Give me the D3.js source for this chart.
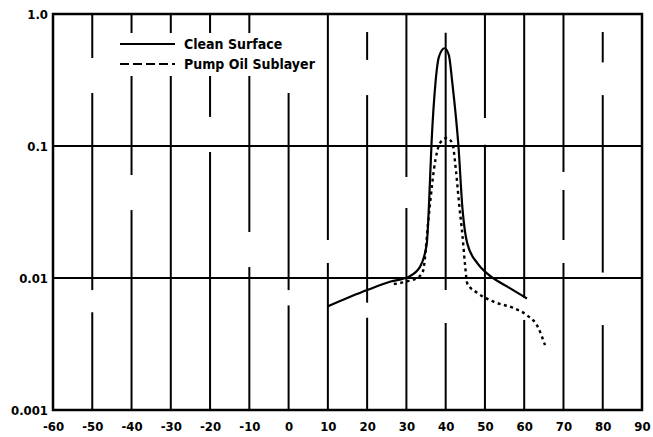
<!DOCTYPE html>
<html>
<head>
<meta charset="utf-8">
<script src="https://cdn.jsdelivr.net/npm/d3@7"></script>
<style>
  html, body { margin: 0; padding: 0; background: #fff; }
  svg { display: block; }
  text { font-family: "DejaVu Sans Condensed", "DejaVu Sans", sans-serif; font-weight: bold; fill: #000; }
</style>
</head>
<body>
<svg id="chart" width="653" height="437"></svg>
<script>
// ---- data ----
const xTicks = [-60, -50, -40, -30, -20, -10, 0, 10, 20, 30, 40, 50, 60, 70, 80, 90];
const yTicks = [0.001, 0.01, 0.1, 1.0];
const yTickLabels = ["0.001", "0.01", "0.1", "1.0"];
const seriesNames = ["Clean Surface", "Pump Oil Sublayer"];

const cleanX = [10, 20, 26, 30.5, 33.5, 35.2, 35.7, 36.4, 37.4, 38.3, 39.7, 40.8, 41.7, 42.6, 43.2, 44.3, 45.5, 48.1, 50.6, 55.7, 60.7];
const cleanY = [0.0061, 0.0081, 0.0094, 0.0102, 0.0122, 0.0183, 0.033, 0.105, 0.30, 0.475, 0.55, 0.49, 0.30, 0.167, 0.105, 0.033, 0.0183, 0.0129, 0.0108, 0.0086, 0.0070];

const oilX = [26.8, 30, 33, 34.2, 35.6, 36.2, 37.0, 37.9, 39.2, 40.3, 41.7, 42.6, 43.4, 44.3, 44.9, 45.5, 48.1, 52.3, 57.4, 60.8, 63.4, 65.3];
const oilY = [0.0090, 0.0094, 0.0101, 0.0112, 0.0275, 0.041, 0.066, 0.093, 0.111, 0.115, 0.105, 0.066, 0.037, 0.0206, 0.0129, 0.0091, 0.0077, 0.0066, 0.0059, 0.0052, 0.0043, 0.0031];

// breaks in the scanned vertical grid lines (value ranges where a line is missing)
const gridGapX = [-50, -50, -40, -20, -10, 0, 0, 10, 20, 20, 20, 30, 40, 40, 50, 60, 70, 70, 80, 80, 80];
const gridGapHi = [0.464, 0.0081, 0.0603, 0.166, 0.0223, 1, 0.0081, 0.0194, 1, 0.449, 0.0065, 0.0582, 1, 0.0081, 0.163, 0.00705, 0.0636, 0.0194, 1, 0.43, 0.011];
const gridGapLo = [0.252, 0.0055, 0.0327, 0.090, 0.0121, 0.252, 0.0062, 0.0130, 0.73, 0.243, 0.0050, 0.0339, 0.72, 0.00456, 0.102, 0.00481, 0.0464, 0.0130, 0.73, 0.243, 0.0044];

// ---- layout ----
const svg = d3.select("#chart");
const x = d3.scaleLinear().domain([-60, 90]).range([53, 642]);
const y = d3.scaleLog().domain([0.001, 1]).range([410, 14]);

// horizontal grid lines
svg.append("g").selectAll("line").data([0.01, 0.1]).join("line")
  .attr("x1", x(-60)).attr("x2", x(90))
  .attr("y1", d => y(d)).attr("y2", d => y(d))
  .attr("stroke", "#000").attr("stroke-width", 2);

// vertical grid lines with breaks
const inner = xTicks.slice(1, -1);
const gv = svg.append("g");
inner.forEach(t => {
  const gaps = [];
  gridGapX.forEach((gx, i) => { if (gx === t) gaps.push([y(gridGapHi[i]), y(gridGapLo[i])]); });
  gaps.sort((a, b) => a[0] - b[0]);
  let cur = y(1);
  const segs = [];
  gaps.forEach(g => { if (g[0] > cur) segs.push([cur, g[0]]); cur = Math.max(cur, g[1]); });
  if (cur < y(0.001)) segs.push([cur, y(0.001)]);
  segs.forEach(s => {
    gv.append("line").attr("x1", x(t)).attr("x2", x(t))
      .attr("y1", s[0]).attr("y2", s[1])
      .attr("stroke", "#000").attr("stroke-width", 2);
  });
});

// legend
const lg = svg.append("g");
lg.append("rect").attr("x", 112).attr("y", 33).attr("width", 203).attr("height", 43).attr("fill", "#fff");
const legendStyles = [null, "9,4"];
seriesNames.forEach((name, i) => {
  const ly = 44 + i * 20;
  lg.append("line").attr("x1", 120).attr("x2", 175).attr("y1", ly).attr("y2", ly)
    .attr("stroke", "#000").attr("stroke-width", 2)
    .attr("stroke-dasharray", legendStyles[i]);
  lg.append("text").attr("x", 184).attr("y", ly + 5)
    .attr("font-size", 14).text(name);
});

// curves
const line = d3.line().x(d => x(d[0])).y(d => y(d[1])).curve(d3.curveMonotoneX);
svg.append("path").datum(cleanX.map((v, i) => [v, cleanY[i]]))
  .attr("d", line).attr("fill", "none").attr("stroke", "#000").attr("stroke-width", 2.2);
svg.append("path").datum(oilX.map((v, i) => [v, oilY[i]]))
  .attr("d", line).attr("fill", "none").attr("stroke", "#000").attr("stroke-width", 2.4)
  .attr("stroke-dasharray", "3,3.5");

// border
svg.append("rect").attr("x", x(-60)).attr("y", y(1))
  .attr("width", x(90) - x(-60)).attr("height", y(0.001) - y(1))
  .attr("fill", "none").attr("stroke", "#000").attr("stroke-width", 2.5);

// axes (tick labels only)
const xAxis = d3.axisBottom(x).tickValues(xTicks).tickSize(0).tickPadding(14).tickFormat(d => String(d));
const gx = svg.append("g").attr("transform", `translate(0,${y(0.001)})`).call(xAxis);
gx.select(".domain").remove();
gx.selectAll("text").attr("font-size", 13).attr("font-family", null).attr("dy", "0.55em");

const yAxis = d3.axisLeft(y).tickValues(yTicks).tickSize(0).tickPadding(5)
  .tickFormat((d, i) => yTickLabels[i]);
const gy = svg.append("g").attr("transform", `translate(${x(-60)},0)`).call(yAxis);
gy.select(".domain").remove();
gy.selectAll("text").attr("font-size", 13).attr("font-family", null);
</script>
</body>
</html>
